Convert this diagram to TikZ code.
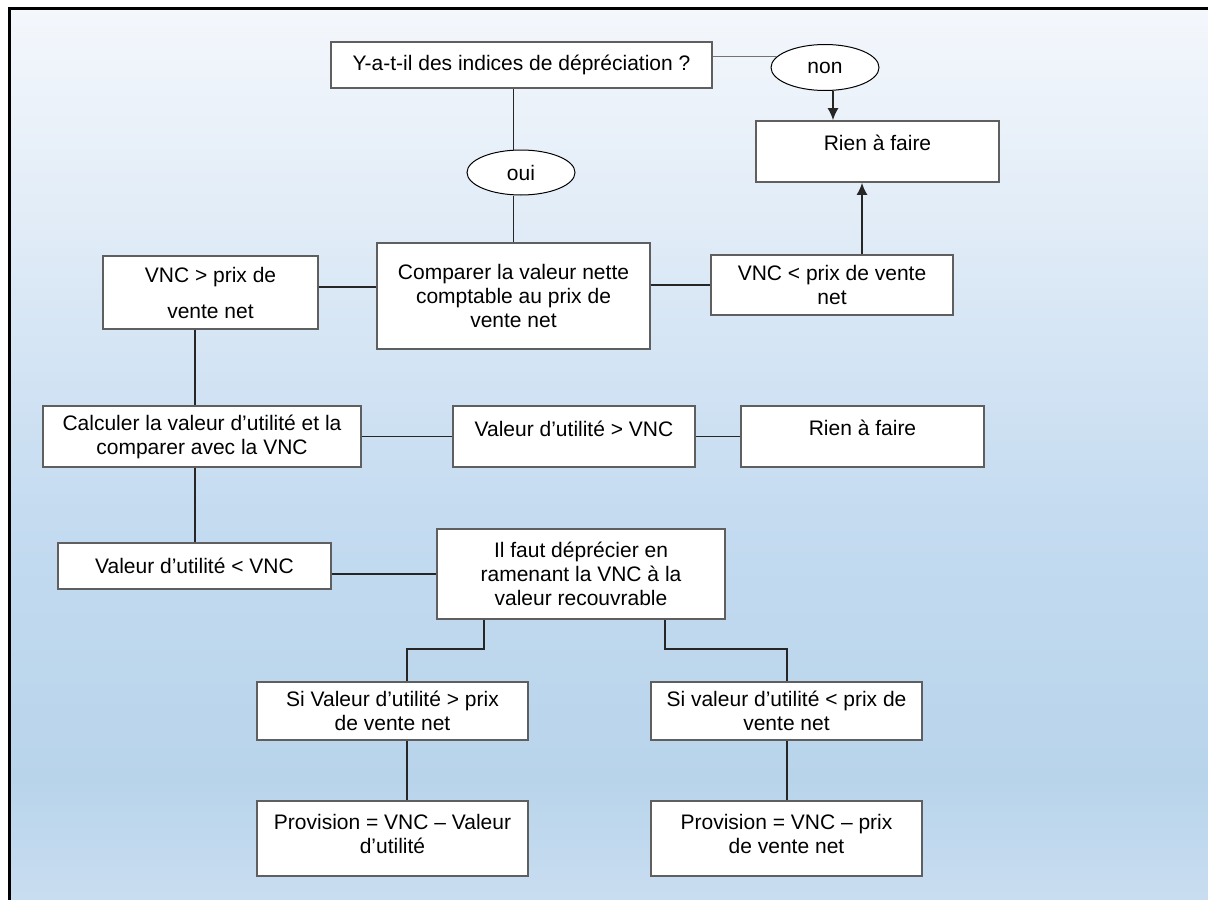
\documentclass[tikz,border=0pt]{standalone}
\usepackage{fontspec}
\setmainfont{Liberation Sans}
\usepackage{tikz}
\usetikzlibrary{arrows,arrows.meta,shapes}

\definecolor{boxline}{HTML}{5F5F5F}
\pgfdeclareverticalshading{bgfade}{100bp}{%
  color(0bp)=(rgb,255:red,201;green,221;blue,240);
  color(25bp)=(rgb,255:red,201;green,221;blue,240);
  color(31.7bp)=(rgb,255:red,184;green,212;blue,235);
  color(46.3bp)=(rgb,255:red,196;green,219;blue,240);
  color(63.1bp)=(rgb,255:red,225;green,236;blue,247);
  color(75bp)=(rgb,255:red,244;green,247;blue,252);
  color(100bp)=(rgb,255:red,244;green,247;blue,252)}

\begin{document}
\begin{tikzpicture}[x=0.5pt,y=-0.5pt]
\tikzstyle{every node}+=[font=\fontsize{10.5}{12}\selectfont, align=center, inner sep=0pt]
\tikzstyle{box}=[rectangle, draw=boxline, line width=0.8pt, fill=white]
\tikzstyle{oval}=[ellipse, draw=black, line width=0.5pt, fill=white, minimum width=54pt, minimum height=23pt]
\tikzstyle{link}=[draw=black!85, line width=0.7pt]
\tikzstyle{arr}=[link, -{Latex[length=6pt,width=5.5pt]}, line width=0.9pt]

\useasboundingbox (0,0) rectangle (1208,899);
\clip (0,0) rectangle (1208,899);
\shade[shading=bgfade] (9,9) rectangle (1208,899);
\draw[line width=1.5pt] (9,9) rectangle (1230,930);

\node (q) [box, minimum width=190.5pt, minimum height=23pt] at (521.5,65) {Y-a-t-il des indices de dépréciation ?};
\node (non) [oval] at (825,67.5) {non};
\node (rien1) [box, minimum width=121.5pt, minimum height=30.5pt, label={[yshift=4.25pt]center:Rien à faire}] at (877.5,151.5) {};
\node (oui) [oval, minimum height=22.5pt] at (521,172.5) {oui};
\node (cmp) [box, minimum width=136.5pt, minimum height=53pt] at (513.5,296) {Comparer la valeur nette\\comptable au prix de\\vente net};
\node (vgt) [box, minimum width=107.5pt, minimum height=36.5pt] at (210.5,292.5) {VNC > prix de\\[6pt]vente net};
\node (vlt) [box, minimum width=121pt, minimum height=30pt] at (832,285) {VNC < prix de vente\\net};
\node (calc) [box, minimum width=159pt, minimum height=30.5pt] at (202,436.5) {Calculer la valeur d’utilité et la\\comparer avec la VNC};
\node (vsup) [box, minimum width=121pt, minimum height=30.5pt, label={[yshift=3.75pt]center:Valeur d’utilité > VNC}] at (574,436.5) {};
\node (rien2) [box, minimum width=121.5pt, minimum height=30.5pt, label={[yshift=4.25pt]center:Rien à faire}] at (862.5,436.5) {};
\node (vinf) [box, minimum width=136.5pt, minimum height=23pt] at (194.5,566) {Valeur d’utilité < VNC};
\node (ilfaut) [box, minimum width=144pt, minimum height=45pt] at (581,574) {Il faut déprécier en\\ramenant la VNC à la\\valeur recouvrable};
\node (si1) [box, minimum width=135.5pt, minimum height=29pt] at (392.5,711) {Si Valeur d’utilité > prix\\de vente net};
\node (si2) [box, minimum width=135.5pt, minimum height=29pt] at (786.5,711) {Si valeur d’utilité < prix de\\vente net};
\node (pv1) [box, minimum width=135.5pt, minimum height=37.5pt, label={[yshift=2.5pt]center:Provision = VNC – Valeur\\d’utilité}] at (392.5,838.5) {};
\node (pv2) [box, minimum width=135.5pt, minimum height=37.5pt, label={[yshift=2.5pt]center:Provision = VNC – prix\\de vente net}] at (786.5,838.5) {};

\coordinate (colA) at (195,0);
\coordinate (colB) at (407,0);
\coordinate (colC) at (787,0);
\coordinate (rowA) at (0,287);
\coordinate (bl) at (484,649);
\coordinate (br) at (665,649);

\draw[link, draw=black!55] (non.167) -- (non.167 -| q.east);
\draw[arr] ([xshift=4pt]non.south) -- ([xshift=4pt]non.south |- rien1.north);
\draw[link] (cmp.north |- q.south) -- (cmp.north |- oui.north);
\draw[link] (cmp.north |- oui.south) -- (cmp.north);
\draw[link] (vgt.east |- rowA) -- (cmp.west |- rowA);
\draw[link] (vlt.west) -- (vlt.west -| cmp.east);
\draw[arr] ([xshift=15pt]vlt.north) -- ([xshift=15pt]vlt.north |- rien1.south);
\draw[link] (vgt.south -| colA) -- (calc.north -| colA);
\path
  (calc) edge[link] (vsup)
  (vsup) edge[link] (rien2)
;
\draw[link] (calc.south -| colA) -- (vinf.north -| colA);
\draw[link] (ilfaut.west) -- (ilfaut.west -| vinf.east);
\draw[link] (ilfaut.south -| bl) -- (bl) -| (si1.north -| colB);
\draw[link] (ilfaut.south -| br) -- (br) -| (si2.north -| colC);
\draw[link] (si1.south -| colB) -- (pv1.north -| colB);
\draw[link] (si2.south -| colC) -- (pv2.north -| colC);
\end{tikzpicture}
\end{document}
